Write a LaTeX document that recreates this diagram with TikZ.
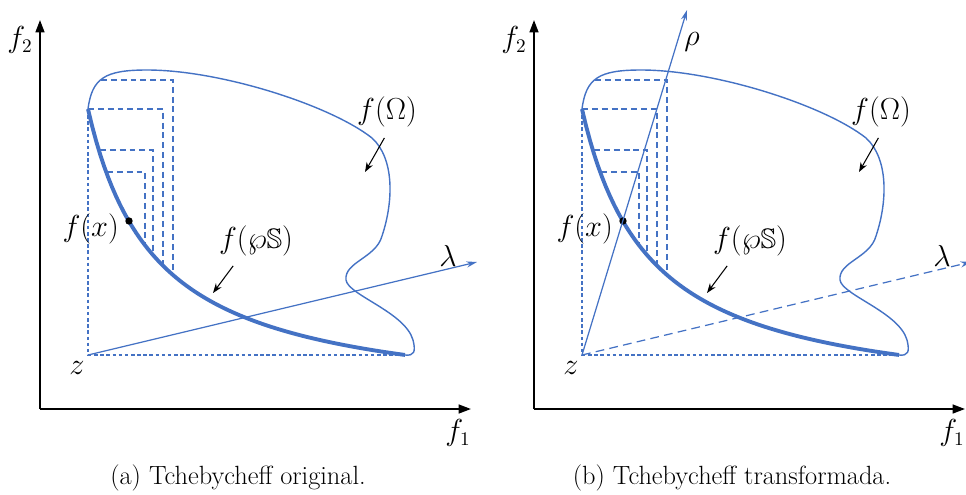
\documentclass[tikz,border=0pt]{standalone}
\usepackage{amsmath,amssymb}
\usepackage{tikz}
\usetikzlibrary{arrows.meta}
\definecolor{tchblue}{RGB}{68,114,196}

\begin{document}
\begin{tikzpicture}[x=0.02cm,y=-0.02cm,
  axis/.style={line width=1.1pt,-{Triangle[length=7pt,width=5pt]}},
  region/.style={tchblue,line width=0.8pt},
  front/.style={tchblue,line width=2.2pt},
  box/.style={tchblue,line width=1.1pt,dash pattern=on 3.4pt off 2.2pt},
  proj/.style={tchblue,line width=0.6pt,dash pattern=on 2pt off 1.5pt},
  ray/.style={tchblue,line width=0.7pt,-{Stealth[length=6pt,width=3.5pt]}},
  pointer/.style={line width=0.6pt,-{Stealth[length=5.5pt,width=4pt]}},
  lbl/.style={font=\fontsize{16}{18}\selectfont},
  dot/.style={circle,fill=black,inner sep=0pt,minimum size=4.2pt}
]
\useasboundingbox (0,0) rectangle (966,494);
\foreach \p/\sx/\capt in {a/0/original,b/494/transformada}{
\begin{scope}[shift={(\sx,0)}]
  % axes
  \coordinate (o\p) at (40,409);
  \coordinate (y\p) at (40,20);
  \coordinate (x\p) at (471,409);
  \draw[axis] (o\p) -- (y\p);
  \draw[axis] (o\p) -- (x\p);
  \node[lbl] (f2\p) at (20,40) {$f_2$};
  \node[lbl] (f1\p) at (458,433) {$f_1$};
  % ideal point and projections
  \coordinate (z\p) at (88,355);
  \coordinate (top\p) at (88,109);
  \coordinate (end\p) at (405,355);
  \draw[proj] (top\p) -- (z\p) -- (end\p);
  \node[lbl] (zl\p) at (77,368) {$z$};
  % image of the feasible set
  \draw[region] (top\p) .. controls (92,78) and (105,70) .. (147,70)
    .. controls (220,70) and (330,105) .. (372,138)
    .. controls (394,158) and (394,200) .. (382,236)
    .. controls (376,258) and (344,262) .. (346,280)
    .. controls (348,295) and (405,312) .. (413,340)
    .. controls (416,352) and (414,356) .. (end\p);
  % Pareto front
  \draw[front] plot[domain=88:405,samples=80] (\x,{407.7-203.05/(\x-20)*100});
  % level sets
  \foreach \xa/\ya/\xb/\yb in {101/80/173/275,88/109/163/266,100/150/153/255,107/172/145/245}
    \draw[box] (\xa,\ya) -- (\xb,\ya) -- (\xb,\yb);
  \node[dot] (fx\p) at (129,221) {};
  \node[lbl,anchor=east] (fxl\p) at (125,229) {$f(x)$};
  % labels
  \node[lbl] (om\p) at (387,112) {$f(\Omega)$};
  \coordinate (omtip\p) at (365,172);
  \draw[pointer,shorten <=3pt] (om\p.south) -- (omtip\p);
  \node[lbl] (ps\p) at (256,241) {$f(\wp\mathbb{S})$};
  \coordinate (pstip\p) at (213,293);
  \draw[pointer] ([xshift=-13pt,yshift=-2pt]ps\p.south) -- (pstip\p);
  \node[font=\fontsize{15}{18}\selectfont] (cap\p) at (238,478) {(\p) Tchebycheff \capt.};
\end{scope}}
% weight vectors
\coordinate (lama) at (477,262);
\draw[ray] (za) -- (lama);
\node[lbl] (lamla) at (448,256) {$\lambda$};
\coordinate (lamb) at (971,262);
\draw[ray,dash pattern=on 5pt off 3pt] (zb) -- (lamb);
\node[lbl] (lamlb) at (942,256) {$\lambda$};
\coordinate (rhob) at (687,10);
\draw[ray] (zb) -- (rhob);
\node[lbl] (rholb) at (692,42) {$\rho$};
\end{tikzpicture}
\end{document}
